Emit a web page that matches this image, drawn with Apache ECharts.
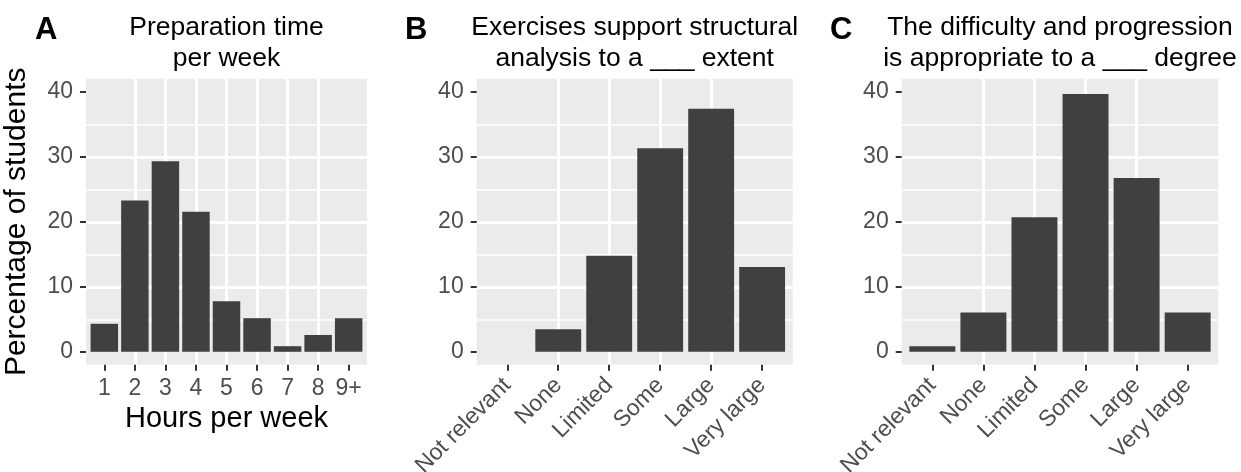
<!DOCTYPE html>
<html>
<head>
<meta charset="utf-8">
<script src="https://cdn.jsdelivr.net/npm/echarts@6/dist/echarts.min.js"></script>
<style>
html,body{margin:0;padding:0;background:#fff}
#main{width:1241px;height:472px}
</style>
</head>
<body>
<div id="main"></div>
<script>
// 数据：三个面板的百分比
var hoursCats = ['1', '2', '3', '4', '5', '6', '7', '8', '9+'];
var hoursPct = [4.31, 23.28, 29.31, 21.55, 7.76, 5.17, 0.86, 2.59, 5.17];
var levelCats = ['Not relevant', 'None', 'Limited', 'Some', 'Large', 'Very large'];
var structPct = [0, 3.48, 14.78, 31.30, 37.39, 13.04];
var difficultyPct = [0.86, 6.03, 20.69, 39.66, 26.72, 6.03];
var yTicks = [0, 10, 20, 30, 40];

var font = 'Liberation Sans, Arial, Helvetica, sans-serif';

var panels = [
    {letter: 'A', letterX: 35, title: 'Preparation time\nper week', cats: hoursCats, data: hoursPct,
     left: 86, width: 281, rotate: 0, xName: 'Hours per week', yName: 'Percentage of students'},
    {letter: 'B', letterX: 405, title: 'Exercises support structural\nanalysis to a ___ extent', cats: levelCats, data: structPct,
     left: 476.7, width: 316, rotate: 45, xName: '', yName: ''},
    {letter: 'C', letterX: 830, title: 'The difficulty and progression\nis appropriate to a ___ degree', cats: levelCats, data: difficultyPct,
     left: 901.7, width: 316.6, rotate: 45, xName: '', yName: ''}
];

var grid = [], xAxis = [], yAxis = [], series = [], title = [];

panels.forEach(function (p, i) {
    var n = p.cats.length;
    var ticks = p.cats.map(function (c, j) { return j + 1; });
    var unit = p.width / (n - 1 + 1.2);

    grid.push({
        left: p.left, top: 78.8, width: p.width, height: 286,
        outerBoundsMode: 'none', containLabel: false,
        show: true, backgroundColor: '#ebebeb', borderWidth: 0
    });

    xAxis.push({
        type: 'value', gridIndex: i, min: 0.4, max: n + 0.6, splitNumber: n,
        axisLine: {show: false, onZero: false},
        axisTick: {show: true, length: 6, customValues: ticks, lineStyle: {color: '#333', width: 2}},
        axisLabel: {
            customValues: ticks,
            formatter: function (v) { return p.cats[Math.round(v) - 1]; },
            color: '#4d4d4d', fontSize: 23, fontFamily: font,
            margin: p.rotate ? 17 : 12,
            rotate: p.rotate,
            hideOverlap: false
        },
        splitLine: {show: true, showMinLine: false, showMaxLine: false, lineStyle: {color: '#fff', width: 3}},
        name: p.xName, nameLocation: 'middle', nameGap: 40,
        nameTextStyle: {color: '#000', fontSize: 29, fontFamily: font}
    });

    yAxis.push({
        type: 'value', gridIndex: i, min: -2, max: 42, splitNumber: 5,
        axisLine: {show: false, onZero: false},
        axisTick: {show: true, length: 6, customValues: yTicks, lineStyle: {color: '#333', width: 2}},
        axisLabel: {customValues: yTicks, color: '#4d4d4d', fontSize: 23, fontFamily: font, margin: 13},
        splitLine: {show: true, showMinLine: false, showMaxLine: false, lineStyle: {color: '#fff', width: 3}},
        minorTick: {show: false, splitNumber: 2},
        minorSplitLine: {show: true, lineStyle: {color: '#fff', width: 1.5}},
        name: p.yName, nameLocation: 'middle', nameGap: 54, nameRotate: 90,
        nameTextStyle: {color: '#000', fontSize: 30, fontFamily: font}
    });

    // 0% 的类别没有柱子
    var barData = [];
    p.data.forEach(function (v, j) {
        if (v > 0) barData.push([j + 1, v]);
    });

    series.push({
        type: 'bar', xAxisIndex: i, yAxisIndex: i,
        barWidth: unit * 0.9,
        data: barData,
        itemStyle: {color: '#404040'},
        silent: true
    });

    title.push({
        text: p.title, left: p.left + p.width / 2, top: 12, textAlign: 'center', padding: 0,
        textStyle: {color: '#000', fontSize: 26.5, fontWeight: 'normal', fontFamily: font, lineHeight: 31}
    });
    title.push({
        text: p.letter, left: p.letterX, top: 15, padding: 0,
        textStyle: {color: '#000', fontSize: 31, fontWeight: 'bold', fontFamily: font}
    });
});

var myChart = echarts.init(document.getElementById('main'));
myChart.setOption({
    backgroundColor: '#fff',
    animation: false,
    title: title,
    grid: grid,
    xAxis: xAxis,
    yAxis: yAxis,
    series: series
});
</script>
</body>
</html>
